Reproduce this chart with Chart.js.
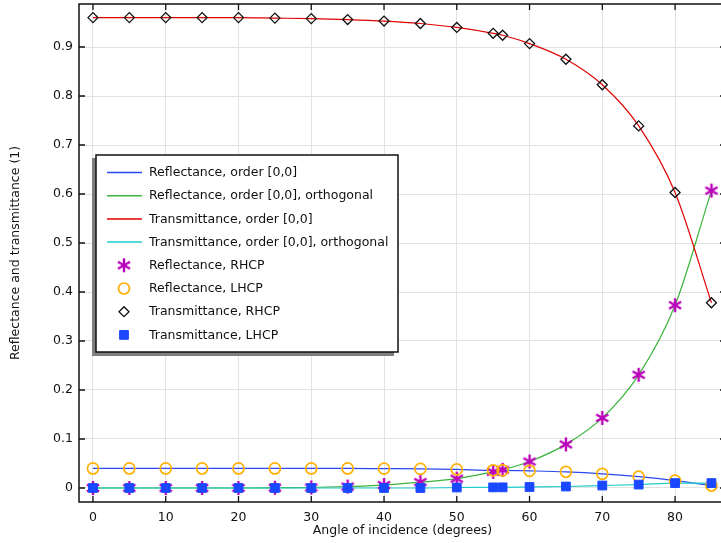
<!DOCTYPE html>
<html>
<head>
<meta charset="utf-8">
<script src="https://cdn.jsdelivr.net/npm/chart.js@4.4.1/dist/chart.umd.min.js"></script>
<style>
  html, body { margin: 0; padding: 0; background: #fff; overflow: hidden; }
  #wrap { width: 730px; height: 543px; }
</style>
</head>
<body>
<div id="wrap"><canvas id="grafico" width="730" height="543"></canvas></div>
<script>
// angulos (graus) e valores
const angulos = [0, 5, 10, 15, 20, 25, 30, 35, 40, 45, 50, 55, 56.3, 60, 65, 70, 75, 80, 85]

const reflRHCP = [0, 0, 0, 0, 0, 0.0005, 0.001, 0.003, 0.006, 0.012, 0.019, 0.033, 0.037, 0.054, 0.089, 0.143, 0.231, 0.373, 0.607]
const reflLHCP = [0.040, 0.040, 0.040, 0.040, 0.040, 0.040, 0.040, 0.040, 0.0395, 0.039, 0.038, 0.036, 0.036, 0.035, 0.033, 0.029, 0.023, 0.015, 0.005]
const transRHCP = [0.960, 0.960, 0.960, 0.960, 0.960, 0.959, 0.958, 0.956, 0.953, 0.948, 0.940, 0.928, 0.924, 0.907, 0.875, 0.823, 0.739, 0.603, 0.378]
const transLHCP = [0, 0, 0, 0, 0, 0, 0, 0, 0, 0, 0.001, 0.0012, 0.0013, 0.002, 0.003, 0.005, 0.007, 0.010, 0.010]

const xTicks = [0, 10, 20, 30, 40, 50, 60, 70, 80]
const yTicks = [0, 0.1, 0.2, 0.3, 0.4, 0.5, 0.6, 0.7, 0.8, 0.9]

const fonte = 'DejaVu Sans'

function pontos(ys) {
    return angulos.map((a, i) => ({ x: a, y: ys[i] }))
}

// asterisco de 6 bracos
function fazerEstrela(r, cor) {
    const c = document.createElement('canvas')
    c.width = c.height = 2 * r + 4
    const g = c.getContext('2d')
    g.strokeStyle = cor
    g.lineWidth = 2.4
    g.lineCap = 'butt'
    const m = r + 2
    for (const ang of [90, 30, 150]) {
        const rad = ang * Math.PI / 180
        g.beginPath()
        g.moveTo(m - r * Math.cos(rad), m - r * Math.sin(rad))
        g.lineTo(m + r * Math.cos(rad), m + r * Math.sin(rad))
        g.stroke()
    }
    return c
}
const estrela = fazerEstrela(7, '#bb00bb')

function linha(label, ys, cor, ordem) {
    return {
        label: label, data: pontos(ys), showLine: true, borderColor: cor, backgroundColor: cor,
        borderWidth: 1.2, pointRadius: 0, cubicInterpolationMode: 'monotone', order: ordem, tipo: 'linha'
    }
}

function marcador(label, ys, estilo, raio, cor, preenchido, largura, ordem) {
    return {
        label: label, data: pontos(ys), showLine: false, pointStyle: estilo, pointRadius: raio,
        pointBorderColor: cor, pointBackgroundColor: preenchido ? cor : 'rgba(0,0,0,0)',
        pointBorderWidth: largura, order: ordem, tipo: 'marcador'
    }
}

const datasets = [
    linha('Reflectance, order [0,0]', reflLHCP, '#2a48f0', 7),
    linha('Reflectance, order [0,0], orthogonal', reflRHCP, '#3cb43c', 6),
    linha('Transmittance, order [0,0]', transRHCP, '#e00000', 5),
    linha('Transmittance, order [0,0], orthogonal', transLHCP, '#20cccc', 4),
    marcador('Reflectance, RHCP', reflRHCP, estrela, 7, '#bb00bb', false, 2.4, 3),
    marcador('Reflectance, LHCP', reflLHCP, 'circle', 5.5, '#ffb000', false, 1.7, 2),
    marcador('Transmittance, RHCP', transRHCP, 'rectRot', 5, '#111111', false, 1.3, 1),
    marcador('Transmittance, LHCP', transLHCP, 'rect', 6.2, '#1a48ff', true, 1, 0)
]

// moldura com ticks para dentro
const moldura = {
    id: 'moldura',
    afterDatasetsDraw(chart) {
        const ctx = chart.ctx
        const a = chart.chartArea
        const sx = chart.scales.x, sy = chart.scales.y
        ctx.save()
        ctx.strokeStyle = '#111'
        ctx.lineWidth = 1.5
        ctx.strokeRect(a.left, a.top, a.right - a.left, a.bottom - a.top)
        ctx.lineWidth = 1.3
        ctx.beginPath()
        xTicks.forEach(v => {
            const px = sx.getPixelForValue(v)
            ctx.moveTo(px, a.bottom); ctx.lineTo(px, a.bottom - 6)
            ctx.moveTo(px, a.top); ctx.lineTo(px, a.top + 6)
        })
        yTicks.forEach(v => {
            const py = sy.getPixelForValue(v)
            ctx.moveTo(a.left, py); ctx.lineTo(a.left + 6, py)
            ctx.moveTo(a.right, py); ctx.lineTo(a.right - 6, py)
        })
        ctx.stroke()
        ctx.restore()
    }
}

// legenda dentro do grafico
const legenda = {
    id: 'legenda',
    afterDraw(chart) {
        const ctx = chart.ctx
        const bx = 96, by = 155, bw = 302, bh = 197
        ctx.save()
        ctx.fillStyle = '#7f7f7f'
        ctx.fillRect(bx - 4, by + 3, bw, bh + 1)
        ctx.fillStyle = '#fff'
        ctx.fillRect(bx, by, bw, bh)
        ctx.strokeStyle = '#111'
        ctx.lineWidth = 1.5
        ctx.strokeRect(bx, by, bw, bh)
        ctx.font = '12.5px "' + fonte + '"'
        ctx.textBaseline = 'middle'
        chart.data.datasets.forEach((ds, i) => {
            const y = 172.5 + i * 23.2
            if (ds.tipo === 'linha') {
                ctx.strokeStyle = ds.borderColor
                ctx.lineWidth = 1.5
                ctx.beginPath()
                ctx.moveTo(107, y); ctx.lineTo(142, y)
                ctx.stroke()
            } else {
                ctx.strokeStyle = ds.pointBorderColor
                ctx.fillStyle = ds.pointBackgroundColor
                ctx.lineWidth = ds.pointBorderWidth
                Chart.helpers.drawPoint(ctx, {
                    pointStyle: ds.pointStyle, radius: ds.pointRadius, rotation: 0, borderWidth: ds.pointBorderWidth
                }, 124, y)
            }
            ctx.fillStyle = '#111'
            ctx.fillText(ds.label, 149, y + 0.5)
        })
        ctx.restore()
    }
}

const graficoConfig = {
    type: 'scatter',
    data: { datasets: datasets },
    options: {
        responsive: false,
        animation: false,
        layout: { autoPadding: false, padding: { top: 4, right: 4, left: 0, bottom: 0 } },
        plugins: { legend: { display: false }, tooltip: { enabled: false } },
        scales: {
            x: {
                type: 'linear', min: -1.92, max: 87.0,
                afterBuildTicks: s => { s.ticks = xTicks.map(v => ({ value: v })) },
                afterFit: s => { s.height = 41; s.paddingLeft = 0; s.paddingRight = 0 },
                grid: { color: '#e2e2e2', lineWidth: 1, drawTicks: false },
                border: { display: false },
                ticks: { autoSkip: false, maxRotation: 0, padding: 8, color: '#111', font: { family: fonte, size: 12.5 } },
                title: { display: true, text: 'Angle of incidence (degrees)', color: '#111', padding: { top: 0, bottom: 5 }, font: { family: fonte, size: 12.5 } }
            },
            y: {
                type: 'linear', min: -0.0286, max: 0.9878,
                afterBuildTicks: s => { s.ticks = yTicks.map(v => ({ value: v })) },
                afterFit: s => { s.width = 79; s.paddingTop = 0; s.paddingBottom = 0 },
                grid: { color: '#e2e2e2', lineWidth: 1, drawTicks: false },
                border: { display: false },
                ticks: { autoSkip: false, padding: 6, color: '#111', font: { family: fonte, size: 12.5 }, callback: v => String(v) },
                title: { display: true, text: 'Reflectance and transmittance (1)', color: '#111', padding: { top: 8, bottom: 0 }, font: { family: fonte, size: 12.5 } }
            }
        }
    },
    plugins: [moldura, legenda]
}

const meuGrafico = new Chart(document.getElementById('grafico'), graficoConfig)
</script>
</body>
</html>
